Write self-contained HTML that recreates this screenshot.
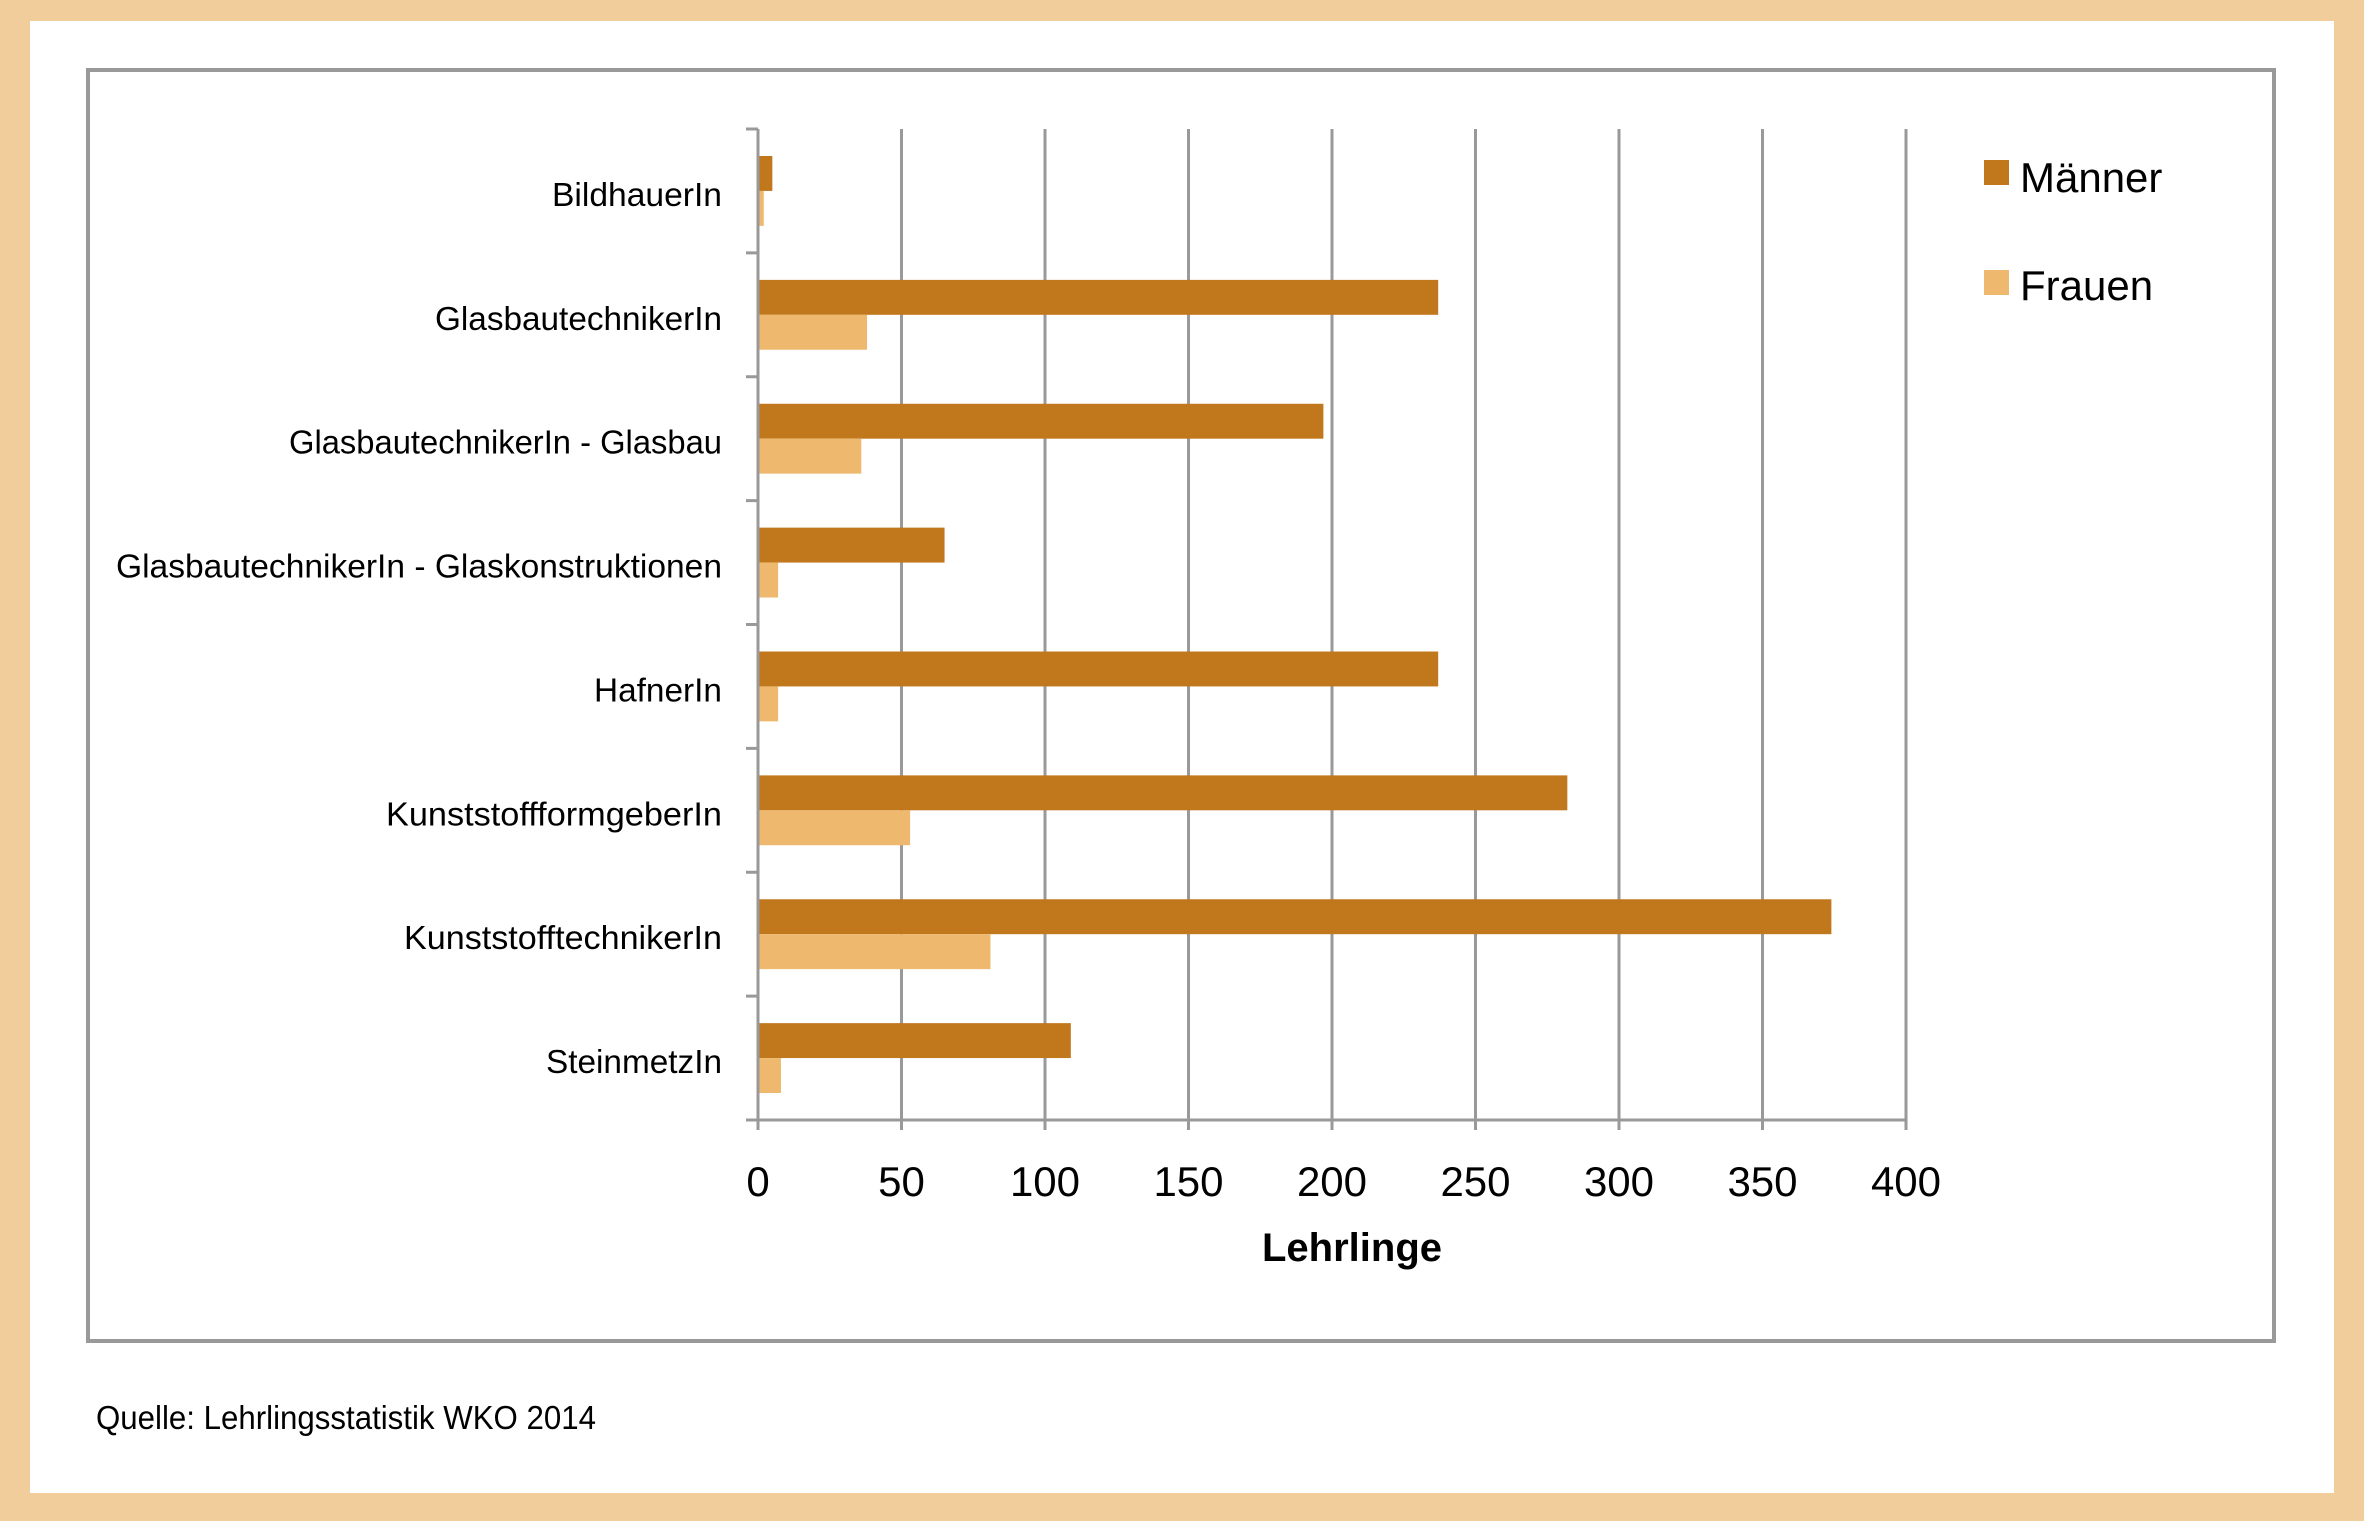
<!DOCTYPE html>
<html><head><meta charset="utf-8"><style>
html,body{margin:0;padding:0;background:#F2CD9C;}
svg{display:block;font-family:"Liberation Sans",sans-serif;}
</style></head><body>
<svg id="c" width="2364" height="1521" xmlns="http://www.w3.org/2000/svg">
<rect x="0" y="0" width="2364" height="1521" fill="#F2CD9C"/>
<rect x="30" y="21" width="2304" height="1472" fill="#fff"/>
<rect x="88" y="70" width="2186" height="1271" fill="#fff" stroke="#999" stroke-width="4"/>
<g id="grid"></g>
<g id="bars"></g>
<g id="axes"></g>
<text x="1352" y="1261" font-size="40" font-weight="bold" text-anchor="middle">Lehrlinge</text>
<rect x="1984" y="160" width="25" height="25" fill="#C1781D"/>
<text x="2020" y="192" font-size="42">Männer</text>
<rect x="1984" y="270" width="25" height="25" fill="#EEB96E"/>
<text x="2020" y="300" font-size="42">Frauen</text>
<text x="96" y="1429" font-size="33" textLength="500" lengthAdjust="spacingAndGlyphs">Quelle: Lehrlingsstatistik WKO 2014</text>
</svg>
<script>
const categories=["BildhauerIn","GlasbautechnikerIn","GlasbautechnikerIn - Glasbau","GlasbautechnikerIn - Glaskonstruktionen","HafnerIn","KunststoffformgeberIn","KunststofftechnikerIn","SteinmetzIn"];
const maenner=[5,237,197,65,237,282,374,109];
const frauen=[2,38,36,7,7,53,81,8];
const ticks=[0,50,100,150,200,250,300,350,400];
const labelWidths=[170,287,433,606,128,336,318,176];

const NS="http://www.w3.org/2000/svg";
const x0=758,x1=1906,yTop=129,yBot=1120,xMax=400;
const xs=v=>x0+(v/xMax)*(x1-x0);
const band=(yBot-yTop)/categories.length;
const yb=i=>yTop+i*band;
function mk(tag,attrs,parent){const e=document.createElementNS(NS,tag);for(const k in attrs)e.setAttribute(k,attrs[k]);parent.appendChild(e);return e;}
const grid=document.getElementById('grid'),bars=document.getElementById('bars'),axes=document.getElementById('axes');
ticks.forEach(t=>{
  if(t>0){const l=mk('line',{x1:xs(t),x2:xs(t),y1:yTop,y2:yBot,stroke:'#999','stroke-width':3},grid);
  
  }
  const tk=mk('line',{x1:xs(t),x2:xs(t),y1:yBot,y2:yBot+10,stroke:'#999','stroke-width':3},axes);
  
  
  const tx=mk('text',{x:xs(t),y:1196,'font-size':42,'text-anchor':'middle'},axes);
  tx.textContent=t;
  
  
});
const bh=band*0.282;
categories.forEach((c,i)=>{
  const gy=yb(i)+band*0.218;
  const m=mk('rect',{x:x0,y:gy,width:xs(maenner[i])-x0,height:bh,fill:'#C1781D'},bars);
  
  
  const f=mk('rect',{x:x0,y:gy+bh,width:xs(frauen[i])-x0,height:bh,fill:'#EEB96E'},bars);
  
  
  const t=mk('text',{x:722,y:yb(i)+band/2+15,'font-size':33,'text-anchor':'end',textLength:labelWidths[i],lengthAdjust:'spacingAndGlyphs'},axes);
  t.textContent=c;
  
  
});
for(let i=0;i<=categories.length;i++){
  const tk=mk('line',{x1:746,x2:x0,y1:yb(i),y2:yb(i),stroke:'#999','stroke-width':3},axes);
  
  
}
const ya=mk('line',{x1:x0,x2:x0,y1:yTop,y2:yBot,stroke:'#999','stroke-width':3},axes);


const xa=mk('line',{x1:746,x2:x1,y1:yBot,y2:yBot,stroke:'#999','stroke-width':3},axes);


</script>
</body></html>
